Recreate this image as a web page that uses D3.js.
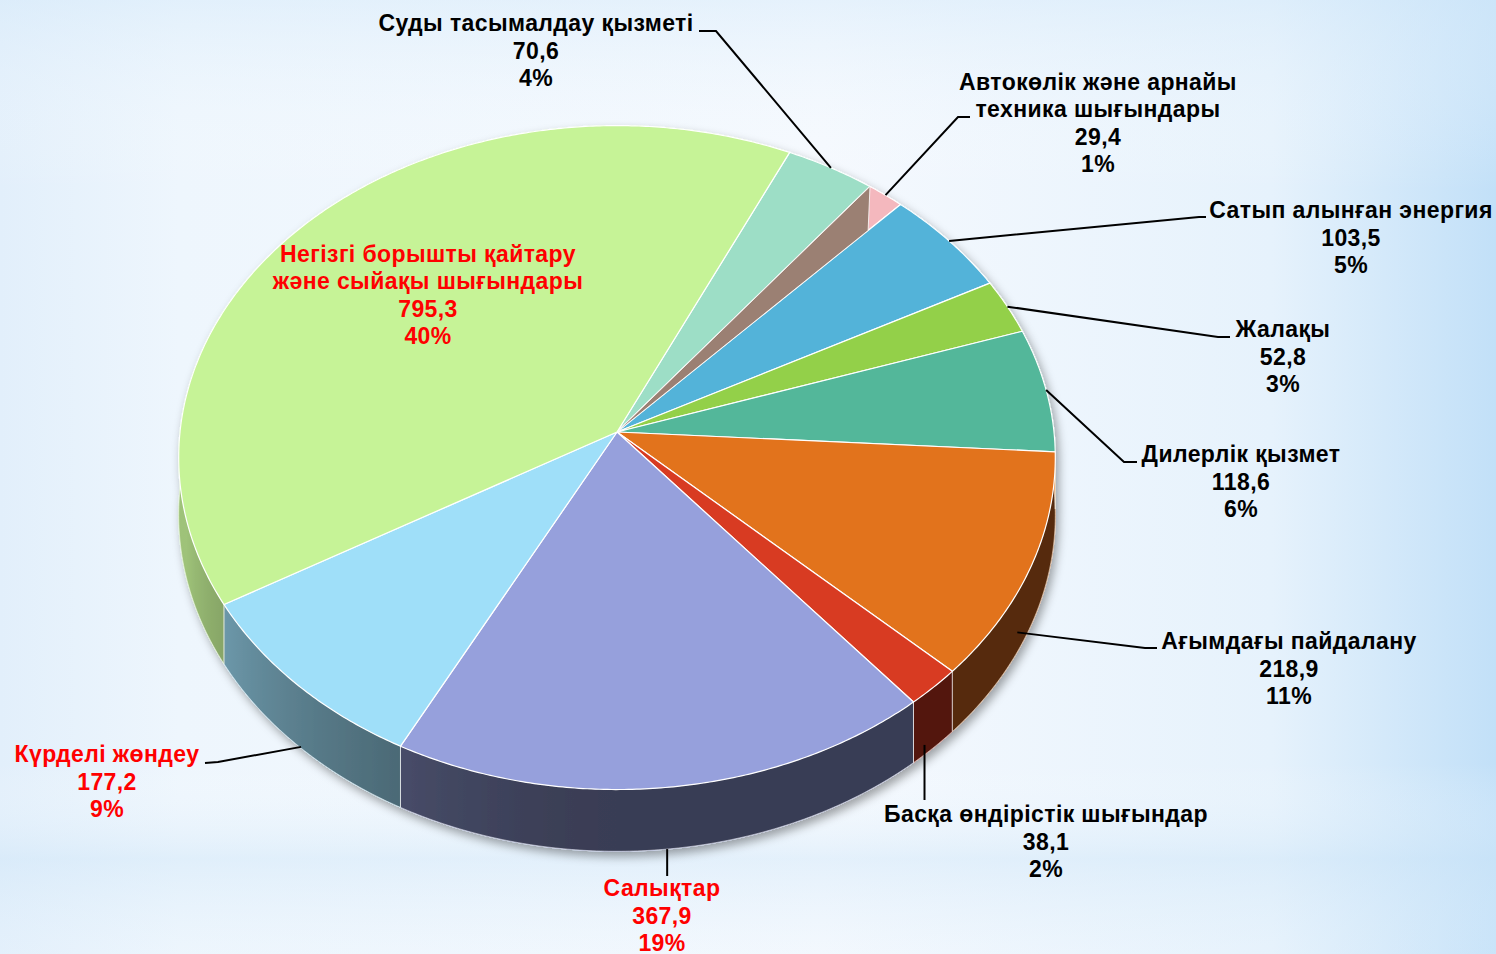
<!DOCTYPE html>
<html>
<head>
<meta charset="utf-8">
<script src="https://cdn.jsdelivr.net/npm/d3@7"></script>
<style>
  html, body { margin: 0; padding: 0; overflow: hidden; }
  svg { display: block; }
</style>
</head>
<body>
<div id="pie3d"></div>
<script>
// slices, clockwise from the mint one
const categories = [
  "Суды тасымалдау қызметі",
  "Автокөлік және арнайы техника шығындары",
  "Сатып алынған энергия",
  "Жалақы",
  "Дилерлік қызмет",
  "Ағымдағы пайдалану",
  "Басқа өндірістік шығындар",
  "Салықтар",
  "Күрделі жөндеу",
  "Негізгі борышты қайтару және сыйақы шығындары",
];
const values = [70.6, 29.4, 103.5, 52.8, 118.6, 218.9, 38.1, 367.9, 177.2, 795.3];
const valueLabels = ["70,6", "29,4", "103,5", "52,8", "118,6", "218,9", "38,1", "367,9", "177,2", "795,3"];
const percentLabels = ["4%", "1%", "5%", "3%", "6%", "11%", "2%", "19%", "9%", "40%"];
// category text split into lines as in the picture
const nameLines = [
  ["Суды тасымалдау қызметі"],
  ["Автокөлік және арнайы", "техника шығындары"],
  ["Сатып алынған энергия"],
  ["Жалақы"],
  ["Дилерлік қызмет"],
  ["Ағымдағы пайдалану"],
  ["Басқа өндірістік шығындар"],
  ["Салықтар"],
  ["Күрделі жөндеу"],
  ["Негізгі борышты қайтару", "және сыйақы шығындары"],
];
const sliceColors = ["#9ddec6", "#f4b8be", "#52b3d9", "#93d04a", "#52b79a",
                     "#e2731e", "#d83b22", "#96a0dc", "#9fdff9", "#c6f397"];
const labelColors = ["#000", "#000", "#000", "#000", "#000",
                     "#000", "#000", "#ff0000", "#ff0000", "#ff0000"];

var width = 1496, height = 954;

// pie geometry (perspective tilted disc)
var cx = 617, cy = 432;
var rx = 437, ry = 330;
var persp = 0.077;
var thick = 57;
var startDeg = 25;

// label placement: centre x, first baseline, leader elbow / end
var labelPos = [
  { x: 536, y: 31, at: 0.5, dep: 0, elbow: [716, 31], end: [699, 31] },
  { x: 1098, y: 89.5, at: 0.5, dep: 0, elbow: [958, 117], end: [970, 117] },
  { x: 1351, y: 218, at: 0.5, dep: 0, elbow: [1199, 217], end: [1206, 217] },
  { x: 1283, y: 337, at: 0.5, dep: 0, elbow: [1218, 337], end: [1230, 337] },
  { x: 1241, y: 462, at: 0.5, dep: 0, elbow: [1124, 462], end: [1137, 462] },
  { x: 1289, y: 649, at: 0.615, dep: 0.67, elbow: [1145, 648], end: [1157, 648] },
  { x: 1046, y: 822, at: 0.73, dep: 0.84, elbow: null, end: 800 },
  { x: 662, y: 896, at: 0.5, dep: 1.0, elbow: null, end: 876 },
  { x: 107, y: 762, at: 0.48, dep: 0.98, elbow: [218, 762], end: [205, 763] },
  { x: 428, y: 261.5, inside: true },
];

var svg = d3
  .select("#pie3d")
  .append("svg")
  .attr("width", width)
  .attr("height", height);

var defs = svg.append("defs");

// Background
var bg = defs.append("linearGradient").attr("id", "bgH");
[["0", "#e2effb"], ["0.12", "#eef6fd"], ["0.55", "#f5f9fe"], ["0.85", "#e6f2fc"], ["1", "#c2e0f8"]]
  .forEach((s) => bg.append("stop").attr("offset", s[0]).attr("stop-color", s[1]));
var bgV = defs.append("linearGradient").attr("id", "bgV")
  .attr("x1", 0).attr("y1", 0).attr("x2", 0).attr("y2", 1);
[["0", "#d6eafa", 0.5], ["0.2", "#ffffff", 0], ["0.8", "#ffffff", 0], ["0.9", "#cfe6f8", 0.45], ["1", "#e8f3fc", 0.2]]
  .forEach((s) => bgV.append("stop").attr("offset", s[0]).attr("stop-color", s[1]).attr("stop-opacity", s[2]));

svg.append("rect").attr("width", width).attr("height", height).attr("fill", "url(#bgH)");
svg.append("rect").attr("width", width).attr("height", height).attr("fill", "url(#bgV)");

var shadow = defs.append("filter").attr("id", "pieShadow")
  .attr("x", "-10%").attr("y", "-10%").attr("width", "120%").attr("height", "130%");
shadow.append("feDropShadow")
  .attr("dx", 3).attr("dy", 5).attr("stdDeviation", 5)
  .attr("flood-color", "#000").attr("flood-opacity", 0.35);

// project a point of the tilted disc to the screen
function proj(phi, r, dep) {
  let X = r * Math.sin(phi), Z = -r * Math.cos(phi);
  let w = 1 - persp * Z;
  return [cx + (rx * X) / w, cy + (ry * Z + dep) / w];
}

var rad = Math.PI / 180;
var pie = d3.pie().sort(null).value((d) => d)
  .startAngle(startDeg * rad).endAngle(startDeg * rad + 2 * Math.PI);
var arcs = pie(values);

var color = d3.scaleOrdinal().domain(categories).range(sliceColors);

// side lighting: lighter towards the left
var lightScale = d3.scaleLinear().domain([180, 255]).range([0, 1]).clamp(true);
function lightAt(deg) {
  return 0.38 + 0.42 * Math.pow(lightScale(deg), 1.5);
}

var line = d3.line();
var step = 0.5 * rad;

function arcPoints(a0, a1, dep) {
  let n = Math.max(2, Math.ceil((a1 - a0) / step));
  return d3.range(n + 1).map((i) => proj(a0 + ((a1 - a0) * i) / n, 1, dep));
}

// shade gradient along x for the front of the wall
var shadeDeg = d3.range(75, 286, 5);
var xs = shadeDeg.map((g) => proj(g * rad, 1, thick / 2)[0]);
var xMin = d3.min(xs), xMax = d3.max(xs);
var shadeGrad = defs.append("linearGradient").attr("id", "wallShade")
  .attr("gradientUnits", "userSpaceOnUse")
  .attr("x1", xMin).attr("x2", xMax).attr("y1", 0).attr("y2", 0);
shadeDeg.filter((g) => g >= 90 && g <= 270).reverse().forEach((g) => {
  let x = proj(g * rad, 1, thick / 2)[0];
  shadeGrad.append("stop")
    .attr("offset", (x - xMin) / (xMax - xMin))
    .attr("stop-color", "#000")
    .attr("stop-opacity", 1 - lightAt(g));
});

var pieG = svg.append("g").attr("filter", "url(#pieShadow)");

// Side walls
var walls = pieG.append("g");
walls.selectAll("path.wall")
  .data(arcs)
  .join("path")
  .attr("class", "wall")
  .attr("d", (d) => line(arcPoints(d.startAngle, d.endAngle, 0)
      .concat(arcPoints(d.startAngle, d.endAngle, thick).reverse())) + "Z")
  .attr("fill", (d, i) => color(categories[i]))
  .attr("stroke", (d, i) => color(categories[i]))
  .attr("stroke-width", 0.5);

walls.append("path")
  .attr("d", line(arcPoints(75 * rad, 285 * rad, 0)
      .concat(arcPoints(75 * rad, 285 * rad, thick).reverse())) + "Z")
  .attr("fill", "url(#wallShade)");

// wall separators
arcs.forEach((d) => {
  walls.append("path")
    .attr("d", line([proj(d.startAngle, 1, 0), proj(d.startAngle, 1, thick)]))
    .attr("stroke", "#ffffff").attr("stroke-opacity", 0.8).attr("stroke-width", 1);
});
walls.append("path")
  .attr("d", line(arcPoints(startDeg * rad, startDeg * rad + 2 * Math.PI, thick)))
  .attr("fill", "none")
  .attr("stroke", "#ffffff").attr("stroke-opacity", 0.5).attr("stroke-width", 1);

// Top faces
var tops = pieG.append("g");
tops.selectAll("path.top")
  .data(arcs)
  .join("path")
  .attr("class", "top")
  .attr("d", (d) => line([[cx, cy]].concat(arcPoints(d.startAngle, d.endAngle, 0))) + "Z")
  .attr("fill", (d, i) => color(categories[i]))
  .attr("stroke", "#ffffff")
  .attr("stroke-width", 1.2)
  .attr("stroke-linejoin", "round");

// exposed cut face of the thin "Автокөлік" slice
var thin = arcs[1];
tops.append("path")
  .attr("d", line([[cx, cy], proj(thin.startAngle, 1, 0), proj(thin.endAngle, 0.88, 0)]) + "Z")
  .attr("fill", "#9b8073")
  .attr("stroke", "#ffffff")
  .attr("stroke-width", 0.8);

// Leader lines
var leaders = svg.append("g");
arcs.forEach((d, i) => {
  let lp = labelPos[i];
  if (lp.inside) return;
  let start = proj(d.startAngle + (d.endAngle - d.startAngle) * lp.at, 1, thick * lp.dep);
  let pts = lp.elbow ? [start, lp.elbow, lp.end] : [start, [start[0], lp.end]];
  leaders.append("path")
    .attr("d", line(pts))
    .attr("fill", "none")
    .attr("stroke", "#000")
    .attr("stroke-width", 2);
});

// Labels
var fontSize = 23, lineH = 27.6;
var labels = svg.append("g")
  .attr("font-family", "'Liberation Sans', Arial, sans-serif")
  .attr("font-weight", "bold")
  .attr("font-size", fontSize)
  .attr("letter-spacing", 0.4)
  .attr("text-anchor", "middle");

categories.forEach((name, i) => {
  let lp = labelPos[i];
  let lines = nameLines[i].concat([valueLabels[i], percentLabels[i]]);
  let t = labels.append("text")
    .attr("x", lp.x)
    .attr("y", lp.y)
    .attr("fill", labelColors[i]);
  lines.forEach((s, j) => {
    t.append("tspan").attr("x", lp.x).attr("y", lp.y + j * lineH).text(s);
  });
});
</script>
</body>
</html>
